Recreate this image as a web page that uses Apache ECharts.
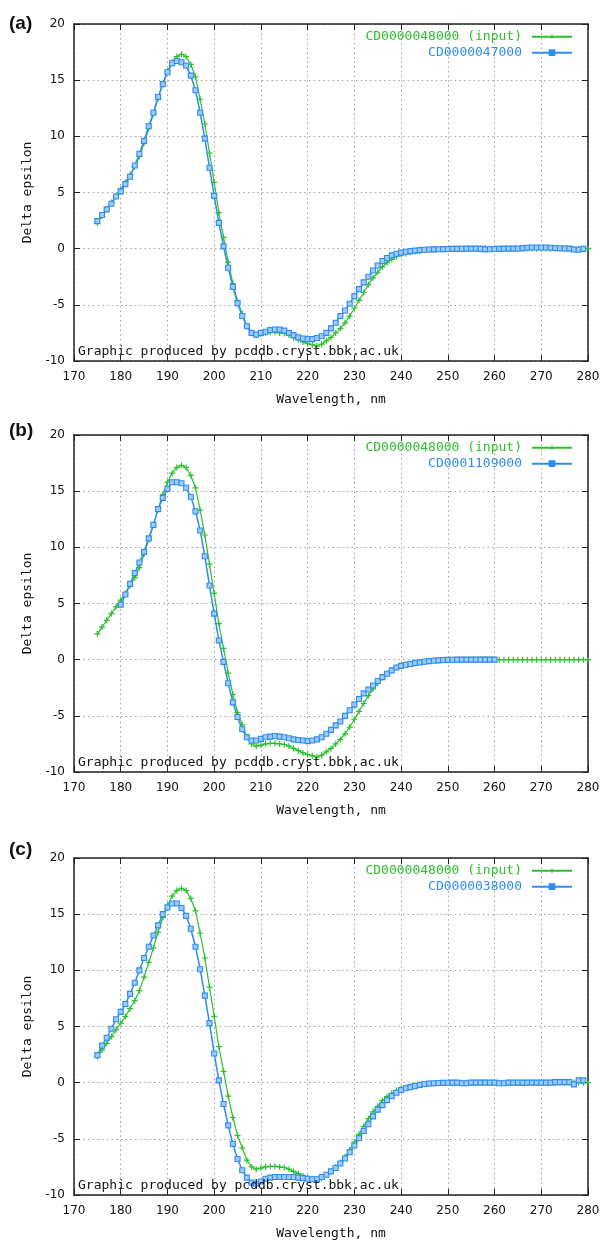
<!DOCTYPE html>
<html>
<head>
<meta charset="utf-8">
<script src="https://cdn.jsdelivr.net/npm/echarts@6/dist/echarts.min.js"></script>
<style>
  html, body { margin: 0; padding: 0; background: #fff; }
  #chart { width: 604px; height: 1243px; }
</style>
</head>
<body>
<div id="chart"></div>
<script>
// colours
const green = '#2cc02c';
const blue = '#2f8cf0';
const blueFill = '#9fcbf8';

// series names
const inputName = 'CD0000048000 (input)';
const panelNames = ['CD0000047000', 'CD0001109000', 'CD0000038000'];
const panelTags = ['(a)', '(b)', '(c)'];

// axis ticks
const xMin = 170, xMax = 280, xStep = 10;
const yMin = -10, yMax = 20, yStep = 5;

// input spectrum, 175..280 nm, 1 nm steps
const inputStart = 175;
const inputValues = [
  2.3, 2.9, 3.5, 4.1, 4.7, 5.3, 5.9, 6.6, 7.3, 8.2,
  9.4, 10.7, 12.0, 13.4, 14.7, 15.8, 16.6, 17.1, 17.3, 17.1,
  16.4, 15.3, 13.3, 11.1, 8.5, 5.9, 3.2, 1.0, -1.2, -3.1,
  -4.7, -5.8, -6.9, -7.5, -7.7, -7.6, -7.5, -7.45, -7.45, -7.5,
  -7.55, -7.7, -7.9, -8.1, -8.3, -8.45, -8.55, -8.65, -8.5, -8.2,
  -7.9, -7.5, -7.1, -6.6, -6.0, -5.3, -4.6, -3.9, -3.2, -2.6,
  -2.1, -1.6, -1.25, -0.95, -0.7, -0.53, -0.42, -0.33, -0.26, -0.2,
  -0.15, -0.1, -0.07, -0.05, -0.03, -0.02, -0.01, 0, 0, 0,
  0, 0, 0.02, 0.05, 0.01, 0, 0, 0, 0, 0,
  0, 0, 0, 0, 0, 0, 0, 0, 0, 0,
  0, 0, 0, 0, 0, 0
];

// CD0000047000, 175..279 nm
const aStart = 175;
const aValues = [
  2.45, 3.0, 3.5, 4.0, 4.65, 5.1, 5.75, 6.4, 7.4, 8.45,
  9.6, 10.9, 12.1, 13.5, 14.65, 15.7, 16.5, 16.7, 16.6, 16.3,
  15.4, 14.1, 12.1, 9.8, 7.2, 4.7, 2.3, 0.2, -1.7, -3.4,
  -4.85, -6.0, -6.9, -7.5, -7.65, -7.5, -7.4, -7.25, -7.2, -7.2,
  -7.3, -7.5, -7.7, -7.9, -8.0, -8.05, -8.05, -7.95, -7.8, -7.5,
  -7.1, -6.6, -6.0, -5.5, -4.9, -4.25, -3.6, -3.0, -2.5, -1.95,
  -1.5, -1.1, -0.83, -0.6, -0.45, -0.35, -0.28, -0.22, -0.17, -0.13,
  -0.1, -0.08, -0.06, -0.05, -0.04, -0.03, -0.02, -0.02, -0.01, 0,
  0, 0, -0.02, -0.06, -0.05, -0.03, -0.02, 0, 0, 0,
  0.02, 0.05, 0.08, 0.1, 0.1, 0.1, 0.1, 0.08, 0.06, 0.04,
  0.02, 0, -0.08, -0.1, -0.02
];

// CD0001109000, 180..260 nm
const bStart = 180;
const bValues = [
  4.9, 5.8, 6.75, 7.7, 8.65, 9.6, 10.8, 12.0, 13.4, 14.4,
  15.2, 15.8, 15.8, 15.7, 15.3, 14.5, 13.2, 11.5, 9.2, 6.6,
  4.1, 1.7, -0.2, -2.1, -3.8, -5.1, -6.2, -6.9, -7.2, -7.2,
  -7.05, -6.9, -6.85, -6.8, -6.85, -6.9, -7.0, -7.1, -7.15, -7.2,
  -7.25, -7.2, -7.1, -6.9, -6.6, -6.25, -5.85, -5.5, -5.0, -4.5,
  -4.0, -3.5, -3.0, -2.65, -2.3, -1.9, -1.55, -1.25, -0.95, -0.7,
  -0.55, -0.45, -0.38, -0.3, -0.24, -0.18, -0.13, -0.09, -0.06, -0.03,
  -0.02, -0.01, 0, 0, 0, 0, 0, 0, 0, 0,
  0
];

// CD0000038000, 175..279 nm
const cStart = 175;
const cValues = [
  2.45, 3.3, 4.0, 4.8, 5.65, 6.3, 7.0, 7.9, 8.9, 10.0,
  11.1, 12.1, 13.1, 14.0, 15.0, 15.6, 15.95, 15.95, 15.55, 14.85,
  13.7, 12.1, 10.1, 7.75, 5.3, 2.6, 0.2, -1.9, -3.8, -5.45,
  -6.8, -7.8, -8.45, -8.9, -9.0, -8.8, -8.55, -8.45, -8.4, -8.4,
  -8.4, -8.4, -8.4, -8.45, -8.5, -8.55, -8.6, -8.6, -8.4, -8.2,
  -7.9, -7.6, -7.2, -6.75, -6.2, -5.6, -4.95, -4.3, -3.7, -3.0,
  -2.4, -2.0, -1.55, -1.2, -0.9, -0.65, -0.5, -0.4, -0.3, -0.2,
  -0.12, -0.08, -0.05, -0.03, -0.02, -0.01, 0, 0, -0.05, -0.05,
  0, 0, 0, 0, 0, 0, -0.05, -0.05, 0, 0,
  0, 0, 0, 0, 0, 0, 0, 0, 0.05, 0.05,
  0.05, 0.05, -0.15, 0.2, 0.2
];

const panelData = [[aStart, aValues], [bStart, bValues], [cStart, cValues]];

// layout
const plotLeft = 74, plotWidth = 514, plotHeight = 337;
const panelTops = [24, 435, 858];
const tagCenters = [23.5, 431, 849.5];

const mono = '"DejaVu Sans Mono", monospace';
const sans = '"DejaVu Sans", sans-serif';

// plus sign for the input series
const plus = 'path://M2.4,0H3.6V2.4H6V3.6H3.6V6H2.4V3.6H0V2.4H2.4Z';

function pairs(start, values) {
  return values.map((v, i) => [start + i, v]);
}

const grid = [], xAxis = [], yAxis = [], series = [], legend = [], title = [];

const gridLine = { show: true, lineStyle: { color: '#a0a0a0', width: 1, type: [1.5, 3.2] } };
const border = { show: true, onZero: false, lineStyle: { color: '#222', width: 1.5 } };
const tick = { show: true, inside: true, length: 6, lineStyle: { color: '#222', width: 1 } };

panelTops.forEach((top, p) => {
  grid.push({ left: plotLeft, top: top, width: plotWidth, height: plotHeight });

  // bottom + mirrored top
  xAxis.push({
    type: 'value', gridIndex: p, min: xMin, max: xMax, interval: xStep,
    axisLine: border, axisTick: tick, splitLine: gridLine,
    axisLabel: { color: '#111', fontFamily: sans, fontSize: 12, margin: 10 },
    name: 'Wavelength, nm', nameLocation: 'middle', nameGap: 32,
    nameTextStyle: { color: '#111', fontFamily: mono, fontSize: 13 }
  });
  xAxis.push({
    type: 'value', gridIndex: p, position: 'top', min: xMin, max: xMax, interval: xStep,
    axisLine: border, axisTick: tick, splitLine: { show: false }, axisLabel: { show: false }
  });
  // left + mirrored right
  yAxis.push({
    type: 'value', gridIndex: p, min: yMin, max: yMax, interval: yStep,
    axisLine: border, axisTick: tick, splitLine: gridLine,
    axisLabel: { color: '#111', fontFamily: sans, fontSize: 12, margin: 9 },
    name: 'Delta epsilon', nameLocation: 'middle', nameGap: 39,
    nameTextStyle: { color: '#111', fontFamily: mono, fontSize: 13 }
  });
  yAxis.push({
    type: 'value', gridIndex: p, position: 'right', min: yMin, max: yMax, interval: yStep,
    axisLine: border, axisTick: tick, splitLine: { show: false }, axisLabel: { show: false }
  });

  series.push({
    name: inputName, type: 'line', xAxisIndex: 2 * p, yAxisIndex: 2 * p,
    data: pairs(inputStart, inputValues),
    symbol: plus, symbolSize: 6, showAllSymbol: true,
    lineStyle: { color: green, width: 1.2 }, itemStyle: { color: green },
    animation: false
  });
  series.push({
    name: panelNames[p], type: 'line', xAxisIndex: 2 * p, yAxisIndex: 2 * p,
    data: pairs(panelData[p][0], panelData[p][1]),
    symbol: 'rect', symbolSize: 5, showAllSymbol: true,
    lineStyle: { color: blue, width: 1.5 },
    itemStyle: { color: blueFill, borderColor: blue, borderWidth: 1.1 },
    animation: false
  });

  legend.push({
    orient: 'vertical', right: 31, top: top + 5.7, align: 'right', padding: 0,
    itemWidth: 40, itemHeight: 6, itemGap: 2, selectedMode: false,
    textStyle: { fontFamily: mono, fontSize: 13, lineHeight: 14, padding: [0, 5, 0, 0] },
    data: [
      { name: inputName, textStyle: { color: green } },
      { name: panelNames[p], textStyle: { color: blue }, itemStyle: { color: blue } }
    ]
  });

  title.push({
    text: panelTags[p], left: 9, top: tagCenters[p] - 11, padding: 0,
    textStyle: { fontFamily: '"Liberation Sans", Arial, sans-serif', fontWeight: 'bold', fontSize: 19, lineHeight: 22, color: '#111' }
  });
  title.push({
    text: 'Graphic produced by pcddb.cryst.bbk.ac.uk', left: 78, top: top + plotHeight - 16.5, padding: 0,
    textStyle: { fontFamily: mono, fontWeight: 'normal', fontSize: 13, lineHeight: 14, color: '#111' }
  });
});

const chart = echarts.init(document.getElementById('chart'));
chart.setOption({
  backgroundColor: '#fff',
  animation: false,
  title: title,
  legend: legend,
  grid: grid,
  xAxis: xAxis,
  yAxis: yAxis,
  series: series
});
</script>
</body>
</html>
